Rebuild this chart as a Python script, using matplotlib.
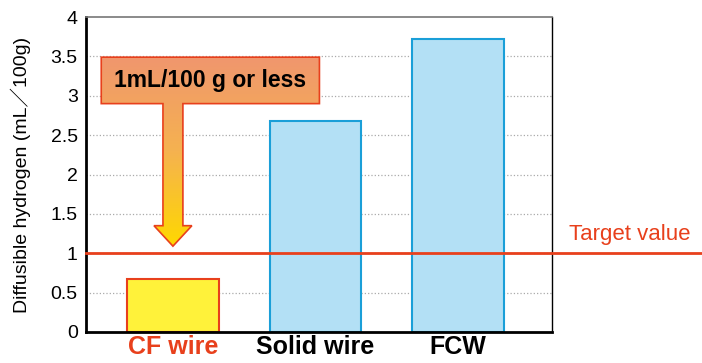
import matplotlib
matplotlib.use("Agg")
from matplotlib import pyplot as plt
from matplotlib.patches import Polygon
import numpy as np

plt.rcParams['font.family'] = ['Liberation Sans', 'Noto Sans CJK JP', 'DejaVu Sans']

categories = ["CF wire", "Solid wire", "FCW"]
values = [0.67, 2.68, 3.72]
target = 1.0
yticks = [0, 0.5, 1, 1.5, 2, 2.5, 3, 3.5, 4]
ytick_labels = ["0", "0.5", "1", "1.5", "2", "2.5", "3", "3.5", "4"]
callout_text = "1mL/100 g or less"
target_text = "Target value"

red = '#e8401c'

fig = plt.figure(figsize=(7.02, 3.63), dpi=100)
ax = fig.add_axes([86 / 702, 31 / 363, 466 / 702, 315 / 363])

x = np.arange(len(categories))
fills = ['#fff23a', '#b3e0f5', '#b3e0f5']
edges = [red, '#1a9fd8', '#1a9fd8']
ax.bar(x, values, width=0.64, color=fills, edgecolor=edges, linewidth=1.5, zorder=2)

ax.set_xlim(-0.61, 2.66)
ax.set_ylim(0, 4)
ax.set_yticks(yticks)
ax.set_yticklabels(ytick_labels, fontsize=14)
ax.set_xticks(x)
ax.set_xticklabels(categories, fontsize=18, fontweight='bold')
ax.get_xticklabels()[0].set_color(red)
ax.tick_params(axis='both', length=0)
ax.tick_params(axis='y', pad=6)
ax.tick_params(axis='x', pad=2)

for yv in yticks[1:-1]:
    ax.axhline(yv, color='#aaaaaa', linestyle=':', linewidth=0.9, zorder=1)

for s in ['left', 'bottom']:
    ax.spines[s].set_linewidth(2)
ax.spines['right'].set_linewidth(1)
ax.spines['top'].set_color('#777777')
ax.spines['top'].set_linewidth(1.2)

# target line runs past the axes to the figure edge
ax.axhline(target, xmin=0, xmax=(702 - 86) / 466, color=red, linewidth=2,
           clip_on=False, zorder=3)
ax.text(2.78, target + 0.1, target_text, color=red, fontsize=16,
        ha='left', va='bottom', clip_on=False)

ax.set_ylabel("Diffusible hydrogen (mL／100g)", fontsize=14, labelpad=14)

# callout box with down arrow, gradient orange -> yellow
bx0, bx1, by0, by1 = -0.503, 1.028, 2.90, 3.49
sw, hw, hy, tip = 0.07, 0.133, 1.35, 1.09
pts = [(bx0, by1), (bx1, by1), (bx1, by0), (sw, by0), (sw, hy), (hw, hy),
       (0, tip), (-hw, hy), (-sw, hy), (-sw, by0), (bx0, by0)]
poly = Polygon(pts, closed=True, facecolor='none', edgecolor=red,
               linewidth=1.2, zorder=5)
ax.add_patch(poly)
grad = np.linspace(0, 1, 256).reshape(-1, 1)
cmap = matplotlib.colors.LinearSegmentedColormap.from_list(
    'og', ['#f0966e', '#f5b250', '#ffd800'])
img = ax.imshow(grad, cmap=cmap, aspect='auto', extent=(bx0, bx1, tip, by1),
                origin='upper', zorder=4)
img.set_clip_path(poly)
ax.set_xlim(-0.61, 2.66)
ax.set_ylim(0, 4)
ax.text((bx0 + bx1) / 2, (by0 + by1) / 2, callout_text, fontsize=16.5,
        fontweight='bold', ha='center', va='center', zorder=6)

plt.savefig('out.png', dpi=100)
